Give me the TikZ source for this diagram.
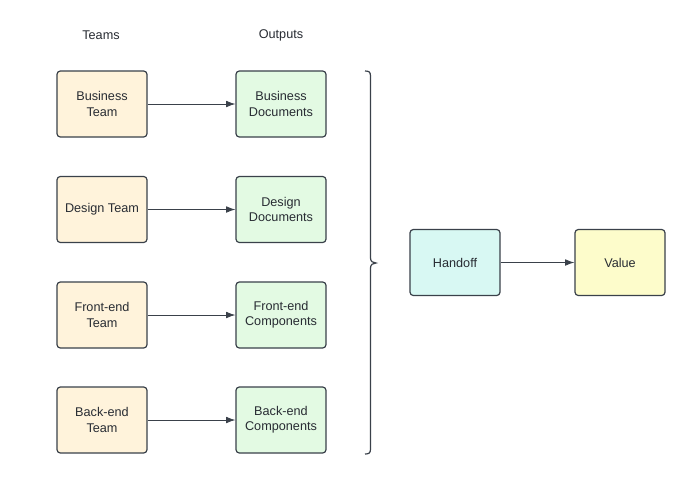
\documentclass[tikz,border=0pt]{standalone}
\usepackage{fontspec}
\setmainfont{Liberation Sans}
\usetikzlibrary{arrows.meta}
\definecolor{strk}{HTML}{3A414A}
\definecolor{teamfill}{HTML}{FFF3DB}
\definecolor{outfill}{HTML}{E3FAE3}
\definecolor{handfill}{HTML}{D8F8F3}
\definecolor{valfill}{HTML}{FDFCCB}
\definecolor{txt}{HTML}{282C33}
\begin{document}
\begin{tikzpicture}[x=0.75pt,y=-0.75pt,
  box/.style={draw=strk,line width=0.9pt,rounded corners=2.5pt,minimum width=67.5pt,minimum height=49.5pt,inner sep=0pt,align=center,text=txt,font=\fontsize{9.5}{11.5}\selectfont},
  teambox/.style={box,fill=teamfill},
  outbox/.style={box,fill=outfill},
  conn/.style={draw=strk,line width=0.6pt,-{Latex[length=7pt,width=5pt]}},
  hdr/.style={text=txt,font=\fontsize{9.5}{11.5}\selectfont}]
\fill[white] (0,0) rectangle (700,479);
\node[hdr] (h1) at (101,35) {Teams};
\node[hdr] (h2) at (281,35) {Outputs};
\node[teambox] (t1) at (102,104) {Business\\Team};
\node[teambox] (t2) at (102,209.5) {Design Team};
\node[teambox] (t3) at (102,315) {Front-end\\Team};
\node[teambox] (t4) at (102,420) {Back-end\\Team};
\node[outbox] (o1) at (281,104) {Business\\Documents};
\node[outbox] (o2) at (281,209.5) {Design\\Documents};
\node[outbox] (o3) at (281,315) {Front-end\\Components};
\node[outbox] (o4) at (281,420) {Back-end\\Components};
\node[box,fill=handfill] (hand) at (455,262.5) {Handoff};
\node[box,fill=valfill] (val) at (620,262.5) {Value};
\foreach \i in {1,2,3,4} {\draw[conn] (t\i) -- (o\i);}
\draw[conn] (hand) -- (val);
\coordinate (bt) at (365,71);
\coordinate (bm) at (376,263);
\coordinate (bb) at (365,454);
\draw[strk,line width=0.9pt] (bt) .. controls (369,71) and (370.5,72) .. (370.5,76) -- (370.5,258) .. controls (370.5,261.5) and (373,263) .. (bm) .. controls (373,263) and (370.5,264.5) .. (370.5,268) -- (370.5,449) .. controls (370.5,453) and (369,454) .. (bb);
\end{tikzpicture}
\end{document}
